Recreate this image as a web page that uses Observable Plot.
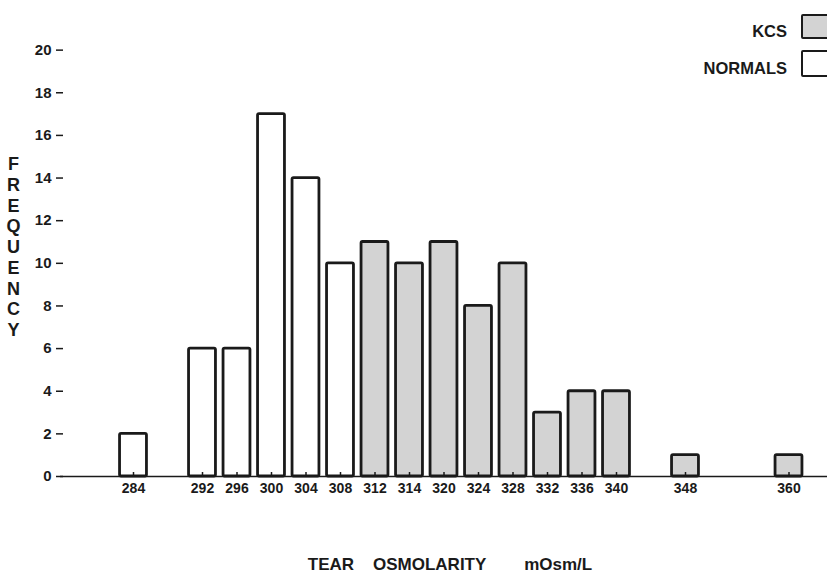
<!DOCTYPE html>
<html>
<head>
<meta charset="utf-8">
<script src="https://cdn.jsdelivr.net/npm/d3@7"></script>
<script src="https://cdn.jsdelivr.net/npm/@observablehq/plot@0.6"></script>
<style>
  html, body { margin: 0; padding: 0; background: #fff; }
  #wrap { position: relative; width: 827px; height: 575px; overflow: hidden; font-family: "Liberation Sans", Arial, Helvetica, sans-serif; }
  #wrap svg g[aria-label="y-axis tick label"] { font-size: 15px; }
  #wrap svg g[aria-label="x-axis tick label"] { font-size: 14px; }
  .leg-text { position: absolute; font-weight: bold; font-size: 16.5px; color: #1a1a1a; text-align: right; width: 140px; }
  .leg-box { position: absolute; box-sizing: border-box; border: 2.8px solid #1a1a1a; border-radius: 2px; width: 40px; }
</style>
</head>
<body>
<div id="wrap"></div>
<script>
// Osmolarity categories (tick labels) in axis order; blank slots are empty bins
const slots = ["284", "", "292", "296", "300", "304", "308", "312", "314", "320", "324", "328", "332", "336", "340", " ", "348", "  ", "   ", "360"];
const normalsBins = ["284", "292", "296", "300", "304", "308"];
const normalsFreq = [2, 6, 6, 17, 14, 10];
const kcsBins = ["312", "314", "320", "324", "328", "332", "336", "340", "348", "360"];
const kcsFreq = [11, 10, 11, 8, 10, 3, 4, 4, 1, 1];
const yTicks = [0, 2, 4, 6, 8, 10, 12, 14, 16, 18, 20];

const data = [
  ...normalsBins.map((b, i) => ({bin: b, freq: normalsFreq[i], group: "NORMALS"})),
  ...kcsBins.map((b, i) => ({bin: b, freq: kcsFreq[i], group: "KCS"}))
];

const ink = "#1a1a1a";
const font = "'Liberation Sans', Arial, Helvetica, sans-serif";
const nb = n => "\u00A0".repeat(n);

const chart = Plot.plot({
  width: 827,
  height: 575,
  marginLeft: 60,
  marginRight: 0,
  marginTop: 7,
  marginBottom: 99,
  style: {fontFamily: font, fontWeight: "bold", fontSize: "14px", color: ink, background: "#fff", overflow: "visible"},
  x: {type: "band", domain: slots, range: [115.75, 805.75], paddingInner: 0.22, paddingOuter: 0.11, round: false},
  y: {domain: [0, 22]},
  color: {domain: ["KCS", "NORMALS"], range: ["#d3d3d3", "#ffffff"]},
  marks: [
    Plot.barY(data, {x: "bin", y: "freq", fill: "group", stroke: ink, strokeWidth: 2.8, rx: 1.5}),
    Plot.ruleY([0], {stroke: ink, strokeWidth: 1.5}),
    Plot.axisY({line: true, tickSize: 0, tickFormat: () => "", label: null, ticks: [], stroke: ink, strokeWidth: 1.5}),
    Plot.axisY({ticks: yTicks, tickSize: 7, dx: 3, tickPadding: 5, label: null, fontSize: 15, fontWeight: "bold", stroke: ink, strokeWidth: 1.5, fill: ink}),
    Plot.axisX({ticks: slots.filter(s => s.trim() !== ""), tickSize: 5, dy: -4, tickPadding: 6, label: null, fontSize: 14, fontWeight: "bold", stroke: ink, strokeWidth: 1.5, fill: ink}),
    Plot.text(["F\nR\nE\nQ\nU\nE\nN\nC\nY"], {
      text: d => d, frameAnchor: "left", dx: -47, dy: 4.5, lineHeight: 1.15,
      fontSize: 18, fontWeight: "bold", fill: ink, textAnchor: "middle", lineAnchor: "middle"
    }),
    Plot.text(["TEAR" + nb(4) + "OSMOLARITY" + nb(8) + "mOsm/L"], {
      text: d => d, frameAnchor: "bottom", dx: 6, dy: 88,
      fontSize: 17, fontWeight: "bold", fill: ink, textAnchor: "middle", lineAnchor: "middle"
    })
  ]
});

const wrap = document.getElementById("wrap");
wrap.appendChild(chart);

// Legend (top right)
const legend = [
  {label: "KCS", fill: "#d3d3d3", textTop: 25, boxTop: 14, boxH: 25},
  {label: "NORMALS", fill: "#ffffff", textTop: 62, boxTop: 50, boxH: 27}
];
for (const l of legend) {
  const t = document.createElement("div");
  t.className = "leg-text";
  t.textContent = l.label;
  t.style.left = (787 - 140) + "px";
  t.style.top = (l.textTop - 3) + "px";
  wrap.appendChild(t);
  const b = document.createElement("div");
  b.className = "leg-box";
  b.style.left = "801px";
  b.style.top = l.boxTop + "px";
  b.style.height = l.boxH + "px";
  b.style.background = l.fill;
  wrap.appendChild(b);
}
</script>
</body>
</html>
